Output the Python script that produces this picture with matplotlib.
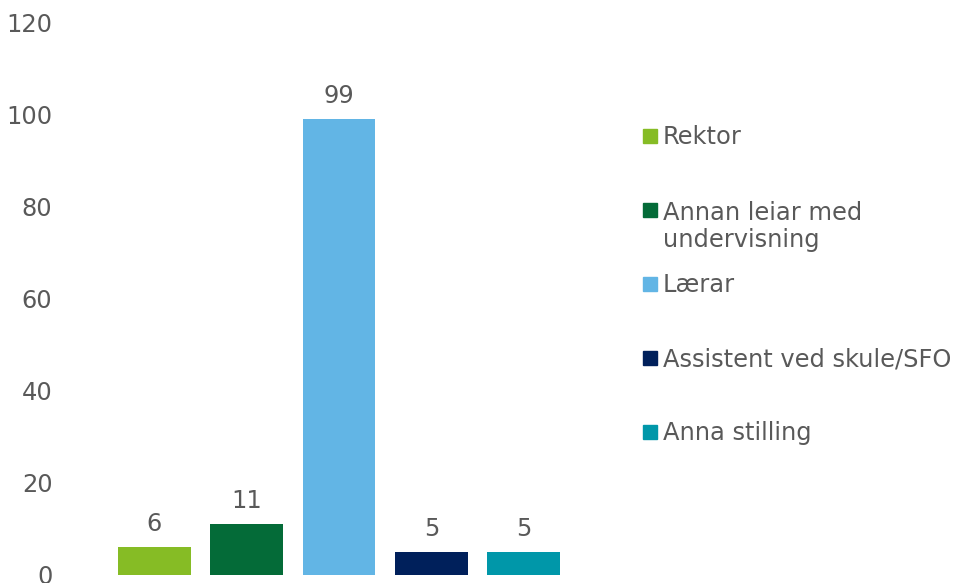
import matplotlib.pyplot as plt
from matplotlib.patches import Rectangle

categories = ['Rektor', 'Annan leiar med\nundervisning', 'Lærar',
              'Assistent ved skule/SFO', 'Anna stilling']
values = [6, 11, 99, 5, 5]
colors = ['#86BC25', '#046B38', '#62B5E5', '#00205B', '#0097A9']
yticks = [0, 20, 40, 60, 80, 100, 120]

text_color = '#595959'
fs = 17.4
plt.rcParams['font.family'] = ['DejaVu Sans']

W, H = 957, 583
fig = plt.figure(figsize=(W / 100, H / 100), dpi=100)
ax = fig.add_axes([108 / W, 8 / H, (570 - 108) / W, (575 - 22) / H])

x = range(len(values))
bars = ax.bar(x, values, width=0.79, color=colors)
ax.bar_label(bars, labels=[str(v) for v in values], padding=8,
             color=text_color, fontsize=fs)

ax.set_xlim(-0.5, 4.5)
ax.set_ylim(0, 120)
ax.set_yticks(yticks)
ax.set_xticks([])
ax.tick_params(axis='y', length=0, pad=40, labelcolor=text_color, labelsize=fs)
for s in ax.spines.values():
    s.set_visible(False)

# legend, drawn by hand like the Excel one
for i, (lab, col) in enumerate(zip(categories, colors)):
    yc = 135.5 + 74.2 * i
    fig.patches.append(Rectangle((643 / W, 1 - (yc + 7) / H), 14 / W, 14 / H,
                                 transform=fig.transFigure, color=col))
    base = yc + 8 + 29 * lab.count('\n')
    fig.text(663 / W, 1 - base / H, lab, color=text_color, fontsize=fs,
             va='baseline', ha='left', linespacing=1.14)

fig.savefig('out.png', dpi=100)
